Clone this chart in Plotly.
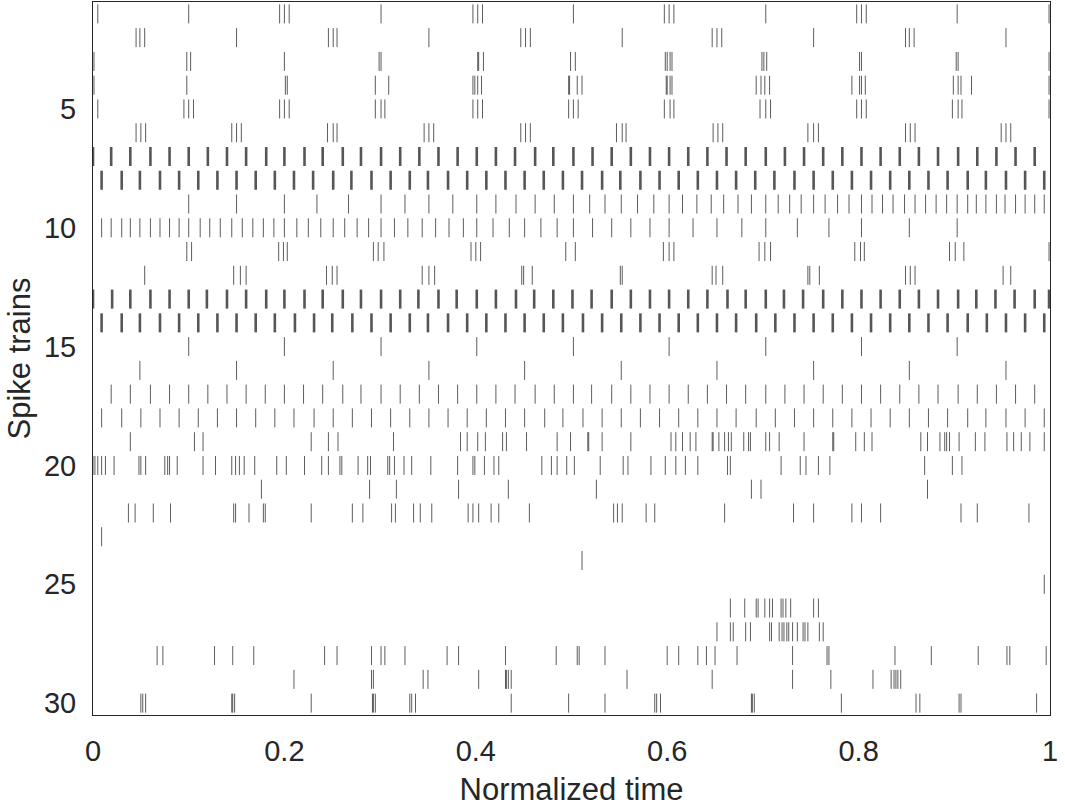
import plotly.graph_objects as go

# Spike times (normalized time) for each of the 30 spike trains
train_01 = [0.005, 0.100, 0.195, 0.200, 0.205, 0.301, 0.397, 0.402, 0.407, 0.502, 0.597, 0.602, 0.607, 0.703, 0.798, 0.803, 0.808, 0.903, 0.999]
train_02 = [0.045, 0.049, 0.054, 0.150, 0.246, 0.251, 0.255, 0.351, 0.447, 0.452, 0.457, 0.553, 0.647, 0.652, 0.657, 0.753, 0.849, 0.853, 0.858, 0.954]
train_03 = [0.001, 0.098, 0.102, 0.200, 0.299, 0.301, 0.402, 0.403, 0.408, 0.499, 0.504, 0.598, 0.600, 0.603, 0.605, 0.699, 0.701, 0.704, 0.801, 0.803, 0.902, 0.904, 0.999]
train_04 = [0.001, 0.098, 0.201, 0.203, 0.295, 0.309, 0.397, 0.399, 0.402, 0.406, 0.497, 0.498, 0.506, 0.511, 0.599, 0.600, 0.603, 0.605, 0.693, 0.698, 0.702, 0.707, 0.793, 0.801, 0.803, 0.807, 0.899, 0.904, 0.907, 0.918, 0.999]
train_05 = [0.005, 0.095, 0.100, 0.105, 0.195, 0.200, 0.205, 0.295, 0.301, 0.305, 0.397, 0.402, 0.407, 0.497, 0.502, 0.507, 0.597, 0.603, 0.607, 0.697, 0.703, 0.708, 0.798, 0.803, 0.808, 0.898, 0.904, 0.908, 0.999]
train_06 = [0.045, 0.050, 0.055, 0.145, 0.150, 0.155, 0.245, 0.251, 0.255, 0.346, 0.351, 0.356, 0.447, 0.452, 0.457, 0.547, 0.553, 0.557, 0.648, 0.653, 0.658, 0.747, 0.753, 0.758, 0.849, 0.854, 0.859, 0.949, 0.954, 0.959]
train_07 = [0.000, 0.019, 0.039, 0.060, 0.080, 0.100, 0.120, 0.140, 0.160, 0.181, 0.200, 0.221, 0.240, 0.261, 0.280, 0.301, 0.321, 0.341, 0.361, 0.381, 0.401, 0.421, 0.441, 0.462, 0.481, 0.502, 0.522, 0.542, 0.562, 0.582, 0.602, 0.622, 0.642, 0.662, 0.682, 0.703, 0.723, 0.743, 0.763, 0.783, 0.803, 0.823, 0.843, 0.863, 0.883, 0.904, 0.924, 0.944, 0.964, 0.984]
train_08 = [0.009, 0.030, 0.049, 0.070, 0.090, 0.110, 0.130, 0.150, 0.170, 0.190, 0.210, 0.230, 0.251, 0.270, 0.291, 0.311, 0.331, 0.350, 0.371, 0.391, 0.411, 0.431, 0.451, 0.471, 0.491, 0.511, 0.532, 0.551, 0.572, 0.592, 0.612, 0.632, 0.652, 0.672, 0.692, 0.712, 0.733, 0.753, 0.773, 0.793, 0.813, 0.833, 0.853, 0.873, 0.893, 0.914, 0.933, 0.954, 0.974, 0.994]
train_09 = [0.100, 0.150, 0.200, 0.234, 0.267, 0.301, 0.326, 0.351, 0.376, 0.401, 0.421, 0.442, 0.462, 0.482, 0.502, 0.519, 0.535, 0.552, 0.569, 0.586, 0.602, 0.616, 0.631, 0.646, 0.659, 0.674, 0.688, 0.703, 0.716, 0.728, 0.740, 0.753, 0.765, 0.778, 0.790, 0.803, 0.814, 0.825, 0.836, 0.848, 0.859, 0.870, 0.881, 0.892, 0.903, 0.914, 0.923, 0.933, 0.944, 0.953, 0.964, 0.974, 0.984, 0.994]
train_10 = [0.009, 0.019, 0.030, 0.039, 0.049, 0.060, 0.070, 0.080, 0.090, 0.100, 0.112, 0.122, 0.133, 0.145, 0.156, 0.167, 0.178, 0.189, 0.200, 0.213, 0.225, 0.238, 0.251, 0.263, 0.276, 0.288, 0.301, 0.315, 0.329, 0.344, 0.358, 0.372, 0.387, 0.401, 0.418, 0.435, 0.451, 0.468, 0.485, 0.502, 0.522, 0.542, 0.562, 0.582, 0.602, 0.627, 0.652, 0.678, 0.703, 0.736, 0.769, 0.803, 0.853, 0.903]
train_11 = [0.098, 0.103, 0.194, 0.199, 0.203, 0.293, 0.298, 0.304, 0.395, 0.400, 0.405, 0.494, 0.504, 0.596, 0.602, 0.607, 0.696, 0.702, 0.708, 0.796, 0.802, 0.806, 0.895, 0.901, 0.910, 0.999]
train_12 = [0.054, 0.147, 0.154, 0.160, 0.244, 0.250, 0.255, 0.344, 0.351, 0.357, 0.448, 0.450, 0.459, 0.551, 0.553, 0.647, 0.651, 0.658, 0.747, 0.749, 0.759, 0.849, 0.854, 0.859, 0.951, 0.959]
train_13 = [0.000, 0.020, 0.039, 0.060, 0.080, 0.100, 0.119, 0.140, 0.160, 0.181, 0.200, 0.221, 0.240, 0.261, 0.280, 0.301, 0.321, 0.340, 0.361, 0.380, 0.401, 0.421, 0.442, 0.461, 0.481, 0.501, 0.521, 0.542, 0.562, 0.582, 0.602, 0.622, 0.642, 0.663, 0.682, 0.703, 0.722, 0.742, 0.763, 0.783, 0.803, 0.823, 0.843, 0.863, 0.883, 0.904, 0.923, 0.943, 0.963, 0.984, 0.999]
train_14 = [0.009, 0.030, 0.049, 0.070, 0.090, 0.110, 0.130, 0.150, 0.170, 0.190, 0.211, 0.231, 0.250, 0.271, 0.291, 0.311, 0.331, 0.350, 0.371, 0.391, 0.411, 0.431, 0.451, 0.471, 0.491, 0.512, 0.532, 0.552, 0.572, 0.592, 0.612, 0.632, 0.652, 0.672, 0.693, 0.713, 0.733, 0.753, 0.773, 0.793, 0.813, 0.833, 0.853, 0.873, 0.893, 0.914, 0.934, 0.954, 0.974, 0.994]
train_15 = [0.100, 0.200, 0.301, 0.401, 0.502, 0.602, 0.703, 0.803, 0.903]
train_16 = [0.049, 0.150, 0.251, 0.351, 0.451, 0.552, 0.652, 0.753, 0.853, 0.954]
train_17 = [0.019, 0.039, 0.060, 0.080, 0.100, 0.120, 0.140, 0.160, 0.180, 0.200, 0.220, 0.240, 0.261, 0.280, 0.301, 0.321, 0.341, 0.361, 0.381, 0.401, 0.421, 0.441, 0.462, 0.482, 0.502, 0.521, 0.542, 0.562, 0.582, 0.602, 0.622, 0.642, 0.662, 0.682, 0.703, 0.723, 0.743, 0.763, 0.783, 0.803, 0.823, 0.843, 0.863, 0.883, 0.904, 0.924, 0.944, 0.964, 0.984]
train_18 = [0.009, 0.030, 0.050, 0.070, 0.090, 0.110, 0.130, 0.150, 0.170, 0.190, 0.210, 0.231, 0.251, 0.271, 0.291, 0.311, 0.331, 0.351, 0.371, 0.391, 0.411, 0.431, 0.451, 0.472, 0.491, 0.512, 0.532, 0.552, 0.572, 0.592, 0.612, 0.632, 0.652, 0.672, 0.693, 0.713, 0.733, 0.753, 0.773, 0.793, 0.813, 0.833, 0.853, 0.873, 0.893, 0.914, 0.933, 0.954, 0.974, 0.994]
train_19 = [0.039, 0.106, 0.115, 0.228, 0.246, 0.256, 0.314, 0.384, 0.391, 0.402, 0.410, 0.428, 0.432, 0.453, 0.485, 0.499, 0.517, 0.518, 0.532, 0.562, 0.604, 0.609, 0.616, 0.624, 0.630, 0.647, 0.648, 0.654, 0.660, 0.664, 0.667, 0.680, 0.685, 0.687, 0.703, 0.707, 0.717, 0.743, 0.773, 0.774, 0.797, 0.806, 0.814, 0.865, 0.872, 0.885, 0.890, 0.892, 0.895, 0.905, 0.922, 0.932, 0.955, 0.962, 0.970, 0.979, 0.994]
train_20 = [0.000, 0.002, 0.005, 0.009, 0.013, 0.022, 0.048, 0.050, 0.055, 0.075, 0.078, 0.080, 0.088, 0.115, 0.128, 0.145, 0.149, 0.153, 0.158, 0.169, 0.192, 0.202, 0.221, 0.239, 0.246, 0.258, 0.260, 0.277, 0.287, 0.290, 0.308, 0.310, 0.315, 0.325, 0.333, 0.353, 0.381, 0.397, 0.399, 0.409, 0.419, 0.424, 0.469, 0.479, 0.485, 0.495, 0.503, 0.530, 0.554, 0.559, 0.583, 0.598, 0.609, 0.619, 0.632, 0.663, 0.666, 0.719, 0.739, 0.745, 0.758, 0.770, 0.869, 0.898, 0.908]
train_21 = [0.176, 0.289, 0.317, 0.382, 0.434, 0.526, 0.688, 0.698, 0.872]
train_22 = [0.037, 0.044, 0.063, 0.081, 0.147, 0.149, 0.163, 0.178, 0.180, 0.228, 0.271, 0.282, 0.312, 0.316, 0.335, 0.342, 0.354, 0.392, 0.397, 0.403, 0.416, 0.424, 0.456, 0.544, 0.548, 0.553, 0.578, 0.587, 0.660, 0.732, 0.753, 0.793, 0.803, 0.823, 0.907, 0.924, 0.978]
train_23 = [0.009]
train_24 = [0.511]
train_25 = [0.994]
train_26 = [0.666, 0.681, 0.693, 0.695, 0.702, 0.707, 0.710, 0.719, 0.721, 0.724, 0.729, 0.753, 0.758]
train_27 = [0.652, 0.666, 0.669, 0.682, 0.687, 0.707, 0.709, 0.717, 0.720, 0.722, 0.725, 0.727, 0.731, 0.736, 0.742, 0.744, 0.747, 0.759, 0.763]
train_28 = [0.067, 0.073, 0.127, 0.146, 0.168, 0.242, 0.255, 0.291, 0.301, 0.305, 0.326, 0.370, 0.382, 0.431, 0.484, 0.506, 0.508, 0.535, 0.600, 0.612, 0.632, 0.641, 0.650, 0.673, 0.731, 0.767, 0.769, 0.838, 0.876, 0.925, 0.955, 0.958, 0.996]
train_29 = [0.210, 0.291, 0.293, 0.345, 0.350, 0.403, 0.431, 0.432, 0.434, 0.437, 0.558, 0.647, 0.731, 0.771, 0.815, 0.834, 0.837, 0.839, 0.841, 0.844]
train_30 = [0.050, 0.052, 0.055, 0.145, 0.146, 0.148, 0.228, 0.292, 0.293, 0.295, 0.331, 0.333, 0.337, 0.437, 0.497, 0.535, 0.587, 0.589, 0.593, 0.688, 0.689, 0.691, 0.782, 0.860, 0.864, 0.905, 0.907, 0.986]

trains = [train_01, train_02, train_03, train_04, train_05, train_06, train_07, train_08, train_09, train_10,
          train_11, train_12, train_13, train_14, train_15, train_16, train_17, train_18, train_19, train_20,
          train_21, train_22, train_23, train_24, train_25, train_26, train_27, train_28, train_29, train_30]

x_ticks = [0, 0.2, 0.4, 0.6, 0.8, 1]
x_tick_labels = ["0", "0.2", "0.4", "0.6", "0.8", "1"]
y_ticks = [5, 10, 15, 20, 25, 30]

thick_rows = {7, 8, 13, 14}
HALF = 0.4

xs_thin, ys_thin, xs_thick, ys_thick = [], [], [], []
for i, tr in enumerate(trains):
    row = i + 1
    for t in tr:
        if row in thick_rows:
            xs_thick += [t, t, None]
            ys_thick += [row - HALF, row + HALF, None]
        else:
            xs_thin += [t, t, None]
            ys_thin += [row - HALF, row + HALF, None]

fig = go.Figure()
fig.add_trace(go.Scatter(x=xs_thin, y=ys_thin, mode="lines",
                         line=dict(color="rgba(30,30,30,0.72)", width=1),
                         hoverinfo="skip", showlegend=False))
fig.add_trace(go.Scatter(x=xs_thick, y=ys_thick, mode="lines",
                         line=dict(color="rgba(30,30,30,0.75)", width=2.6),
                         hoverinfo="skip", showlegend=False))

font_family = "Liberation Sans, Arial, sans-serif"
fig.update_layout(
    width=1065, height=811,
    margin=dict(l=93, r=15, t=2, b=96),
    paper_bgcolor="white", plot_bgcolor="white",
    font=dict(family=font_family, size=29, color="#262626"),
    xaxis=dict(range=[0, 1], tickvals=x_ticks, ticktext=x_tick_labels,
               showgrid=False, zeroline=False, showline=True, mirror=True,
               linecolor="#262626", linewidth=1, ticks="", ticklabelstandoff=10,
               title=dict(text="Normalized time", standoff=12,
                          font=dict(size=31, color="#262626"))),
    yaxis=dict(range=[30.5, 0.5], tickvals=y_ticks,
               showgrid=False, zeroline=False, showline=True, mirror=True,
               linecolor="#262626", linewidth=1, ticks="", ticklabelstandoff=10,
               title=dict(text="Spike trains", standoff=4,
                          font=dict(size=31, color="#262626"))),
)

fig.write_html("out.html")
